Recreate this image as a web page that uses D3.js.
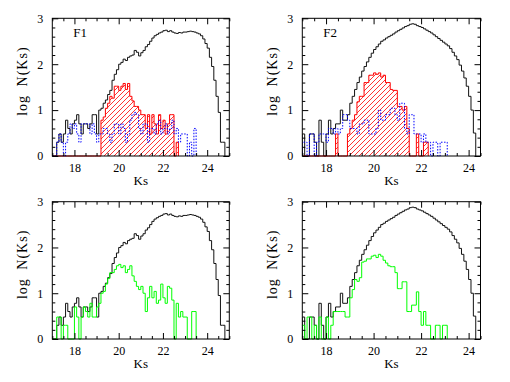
<!DOCTYPE html>
<html><head><meta charset="utf-8">
<script src="https://cdn.jsdelivr.net/npm/d3@7"></script>
<style>body{margin:0;background:#fff}svg{display:block}</style>
</head><body><svg id="c" width="510" height="382"></svg>
<script>
// ---- data: log N(Ks) per 0.1 mag bin, first bin starts at Ks = 17.0 ----
const binStart = 17.0;
const binWidth = 0.1;

const f1Total = [0,0,0.30,0.48,0.30,0.48,0.78,0.60,0.48,0.70,
  0.78,0.90,0.70,0.48,0.70,0.70,0.60,0.70,0.90,0.90,
  0.48,1.00,1.04,1.15,1.22,1.34,1.43,1.65,1.78,1.88,
  2.00,2.04,2.11,2.08,2.15,2.18,2.20,2.30,2.26,2.18,
  2.25,2.30,2.38,2.43,2.50,2.57,2.62,2.65,2.68,2.70,
  2.73,2.74,2.71,2.73,2.70,2.68,2.67,2.69,2.68,2.70,
  2.70,2.71,2.72,2.71,2.70,2.68,2.66,2.62,2.55,2.45,
  2.35,2.15,1.95,1.65,1.30,0.95,0.30,0.30];

const f1Red = [0,0,0,0,0,0,0,0,0,0,
  0,0,0,0,0,0,0,0,0,0,
  0,0,0.78,0.85,1.04,1.15,1.30,1.26,1.52,1.52,
  1.43,1.52,1.58,1.45,1.58,1.30,1.20,1.08,1.08,1.00,
  0.90,0.90,0.60,0.90,0.48,0.90,0.70,0.48,0.90,0.60,
  0.78,0.48,0.70,0.90,0.90,0,0.30];

const f1Blue = [0,0,0.30,0.48,0.30,0,0.30,0.48,0.70,0.60,
  0.70,0.48,0.30,0.70,0.70,0.70,0.70,0.48,0.70,0.48,
  0.30,0.48,0.48,0.60,0.60,0.48,0.30,0.48,0.70,0.70,
  0.48,0.70,0.60,0.30,0.48,0.78,0.90,0.95,0.90,0.60,
  0.48,0.70,0.70,0.30,0.60,0.60,0.48,0.70,0.78,0.48,
  0.60,0.70,0.48,0.60,0.78,0.48,0.60,0.30,0.48,0.48,
  0.48,0,0.30,0,0.60];

const f1Green = [0,0,0.48,0.48,0,0.30,0.30,0,0,0,
  0.70,0.48,0,0.48,0.70,0.60,0.48,0.78,0.48,0.48,
  0.70,0.78,1.00,1.04,1.20,1.32,1.45,1.45,1.52,1.60,
  1.63,1.56,1.60,1.45,1.52,1.60,1.38,1.26,1.15,1.08,
  1.15,1.00,0.60,0.90,1.15,0.90,1.04,0.78,0.85,1.20,
  0.90,0.78,1.15,1.11,0.85,0,0.78,0.48,0.60,0.48,
  0.48,0,0,0.60,0.60];

const f2Total = [0.48,0,0,0.48,0.48,0.30,0,0.78,0.30,0,
  0.48,0.78,0.48,0.60,0.70,0.70,1.00,0.78,0.78,0.90,
  1.15,1.30,1.45,1.60,1.72,1.85,1.95,2.05,2.15,2.24,
  2.32,2.38,2.44,2.50,2.53,2.57,2.60,2.63,2.66,2.70,
  2.73,2.76,2.79,2.82,2.84,2.87,2.88,2.87,2.84,2.82,
  2.80,2.77,2.74,2.71,2.68,2.64,2.60,2.56,2.52,2.48,
  2.44,2.40,2.34,2.26,2.18,2.10,1.98,1.85,1.70,1.52,
  1.30,1.00,0.50];

const f2Red = [0,0,0,0,0,0,0,0,0,0,
  0,0,0,0,0.48,0,0,0,0,0.48,
  0.60,0.78,0.90,1.18,1.30,1.30,1.60,1.60,1.76,1.76,
  1.81,1.78,1.81,1.72,1.76,1.60,1.60,1.45,1.43,1.43,
  1.08,1.08,1.00,1.08,0.60,0,0,0,0.48,0,
  0,0.30,0.30];

const f2Blue = [0.30,0.30,0,0.48,0.48,0,0.30,0.48,0.48,0.48,
  0.30,0.60,0.60,0.48,0.60,0.48,0.60,0.90,0.90,0.78,
  0.60,0.60,0.60,0.48,0.70,0.70,0.78,0.78,0.48,0.48,
  0.48,0.60,1.00,0.78,0.78,0.90,0.90,1.04,1.04,0.90,
  0.78,1.15,1.15,0.60,0.48,0.90,0.90,0.48,0.48,0.48,
  0.30,0.48,0.30,0.30,0,0.30,0.30,0,0.30,0.30,
  0.30];

const f2Green = [0.30,0,0.48,0.48,0,0.30,0,0.48,0,0,
  0.48,0,0.30,0.60,0.60,0.60,0.60,0.60,0.48,0.48,
  0.90,1.08,1.30,1.26,1.34,1.68,1.70,1.75,1.75,1.81,
  1.83,1.78,1.85,1.81,1.72,1.66,1.60,1.58,1.58,1.45,
  1.10,1.10,1.25,1.25,0.60,0.60,0.74,0.74,1.03,0.60,
  0.30,0.60,0.30,0.30,0,0,0.30,0.30,0,0.30,
  0.30];

const xTickLabels = [18, 20, 22, 24];
const yTickLabels = [0, 1, 2, 3];
const fieldNames = ["F1", "F2"];
const xLabel = "Ks";
const yLabel = "log N(Ks)";

// ---- layout ----
const panels = [
  {left:52.3, right:229.3, top:18.3, bottom:156, dom:[17,25], total:f1Total, red:f1Red, blue:f1Blue, name:fieldNames[0]},
  {left:302.3, right:480.5, top:18.3, bottom:156, dom:[17,24.5], total:f2Total, red:f2Red, blue:f2Blue, name:fieldNames[1]},
  {left:52.3, right:229.3, top:201.7, bottom:339, dom:[17,25], total:f1Total, green:f1Green},
  {left:302.3, right:480.5, top:201.7, bottom:339, dom:[17,24.5], total:f2Total, green:f2Green}
];

const svg = d3.select("#c");
const defs = svg.append("defs");
defs.append("pattern").attr("id","hatch").attr("patternUnits","userSpaceOnUse")
  .attr("width",5).attr("height",5)
  .append("path").attr("d","M-1,1 L1,-1 M0,5 L5,0 M4,6 L6,4")
  .attr("stroke","#ff0000").attr("stroke-width",0.8).attr("fill","none");

const FONT = "'Liberation Serif', 'Times New Roman', serif";

function histPoints(vals){
  const p = [[binStart, 0]];
  vals.forEach((v,i) => p.push([binStart + i*binWidth, v]));
  p.push([binStart + vals.length*binWidth, 0]);
  return p;
}

panels.forEach((P, k) => {
  const x = d3.scaleLinear().domain(P.dom).range([P.left, P.right]);
  const y = d3.scaleLinear().domain([0,3]).range([P.bottom, P.top]);
  const clipId = "clip"+k;
  defs.append("clipPath").attr("id", clipId).append("rect")
    .attr("x", P.left).attr("y", P.top).attr("width", P.right-P.left).attr("height", P.bottom-P.top+1);

  const line = d3.line().x(d => x(d[0])).y(d => y(d[1])).curve(d3.curveStepAfter);
  const area = d3.area().x(d => x(d[0])).y0(y(0)).y1(d => y(d[1])).curve(d3.curveStepAfter);

  const g = svg.append("g").attr("clip-path", `url(#${clipId})`);
  if (P.red) {
    g.append("path").attr("d", area(histPoints(P.red))).attr("fill","url(#hatch)");
  }
  g.append("path").attr("d", line(histPoints(P.total))).attr("fill","none")
    .attr("stroke","#111").attr("stroke-width",1);
  if (P.red) {
    g.append("path").attr("d", line(histPoints(P.red))).attr("fill","none")
      .attr("stroke","#ff0000").attr("stroke-width",1);
  }
  if (P.blue) {
    g.append("path").attr("d", line(histPoints(P.blue))).attr("fill","none")
      .attr("stroke","#0000ff").attr("stroke-width",1).attr("stroke-dasharray","1.5,1.5");
  }
  if (P.green) {
    g.append("path").attr("d", line(histPoints(P.green))).attr("fill","none")
      .attr("stroke","#00ff00").attr("stroke-width",1);
  }

  // axes
  const xMinor = d3.range(P.dom[0], P.dom[1] + 0.001, 0.5).filter(v => !xTickLabels.includes(v));
  const yMinor = d3.range(0, 3.001, 0.2).map(v => +v.toFixed(1)).filter(v => !yTickLabels.includes(v));

  const styleAxis = sel => {
    sel.select(".domain").remove();
    sel.selectAll("line").attr("stroke","#000").attr("stroke-width",1);
    sel.selectAll("text").attr("font-family", FONT).attr("font-size", 12).attr("fill","#000");
  };

  svg.append("g").attr("transform",`translate(0,${P.bottom})`)
    .call(d3.axisBottom(x).tickValues(xTickLabels).tickSizeInner(-6).tickSizeOuter(0).tickPadding(7).tickFormat(d3.format("d")))
    .call(styleAxis);
  svg.append("g").attr("transform",`translate(0,${P.bottom})`)
    .call(d3.axisBottom(x).tickValues(xMinor).tickSizeInner(-3).tickSizeOuter(0).tickFormat(""))
    .call(styleAxis);
  svg.append("g").attr("transform",`translate(0,${P.top})`)
    .call(d3.axisTop(x).tickValues(xTickLabels).tickSizeInner(-6).tickSizeOuter(0).tickFormat(""))
    .call(styleAxis);
  svg.append("g").attr("transform",`translate(0,${P.top})`)
    .call(d3.axisTop(x).tickValues(xMinor).tickSizeInner(-3).tickSizeOuter(0).tickFormat(""))
    .call(styleAxis);

  svg.append("g").attr("transform",`translate(${P.left},0)`)
    .call(d3.axisLeft(y).tickValues(yTickLabels).tickSizeInner(-6).tickSizeOuter(0).tickPadding(9).tickFormat(d3.format("d")))
    .call(styleAxis);
  svg.append("g").attr("transform",`translate(${P.left},0)`)
    .call(d3.axisLeft(y).tickValues(yMinor).tickSizeInner(-3).tickSizeOuter(0).tickFormat(""))
    .call(styleAxis);
  svg.append("g").attr("transform",`translate(${P.right},0)`)
    .call(d3.axisRight(y).tickValues(yTickLabels).tickSizeInner(-6).tickSizeOuter(0).tickFormat(""))
    .call(styleAxis);
  svg.append("g").attr("transform",`translate(${P.right},0)`)
    .call(d3.axisRight(y).tickValues(yMinor).tickSizeInner(-3).tickSizeOuter(0).tickFormat(""))
    .call(styleAxis);

  // frame
  svg.append("rect").attr("x",P.left).attr("y",P.top)
    .attr("width",P.right-P.left).attr("height",P.bottom-P.top)
    .attr("fill","none").attr("stroke","#000").attr("stroke-width",1);

  // axis titles
  svg.append("text").attr("x",(P.left+P.right)/2).attr("y",P.bottom+29)
    .attr("text-anchor","middle").attr("font-family",FONT).attr("font-size",13)
    .text(xLabel);
  const cy = (P.top+P.bottom)/2 - 6;
  svg.append("text").attr("transform",`translate(${P.left-25},${cy}) rotate(-90)`)
    .attr("text-anchor","middle").attr("font-family",FONT).attr("font-size",14)
    .attr("word-spacing",4).attr("letter-spacing",1)
    .text(yLabel);

  if (P.name) {
    svg.append("text").attr("x",P.left+21).attr("y",P.top+19)
      .attr("font-family",FONT).attr("font-size",13).text(P.name);
  }
});
</script>
</body></html>
